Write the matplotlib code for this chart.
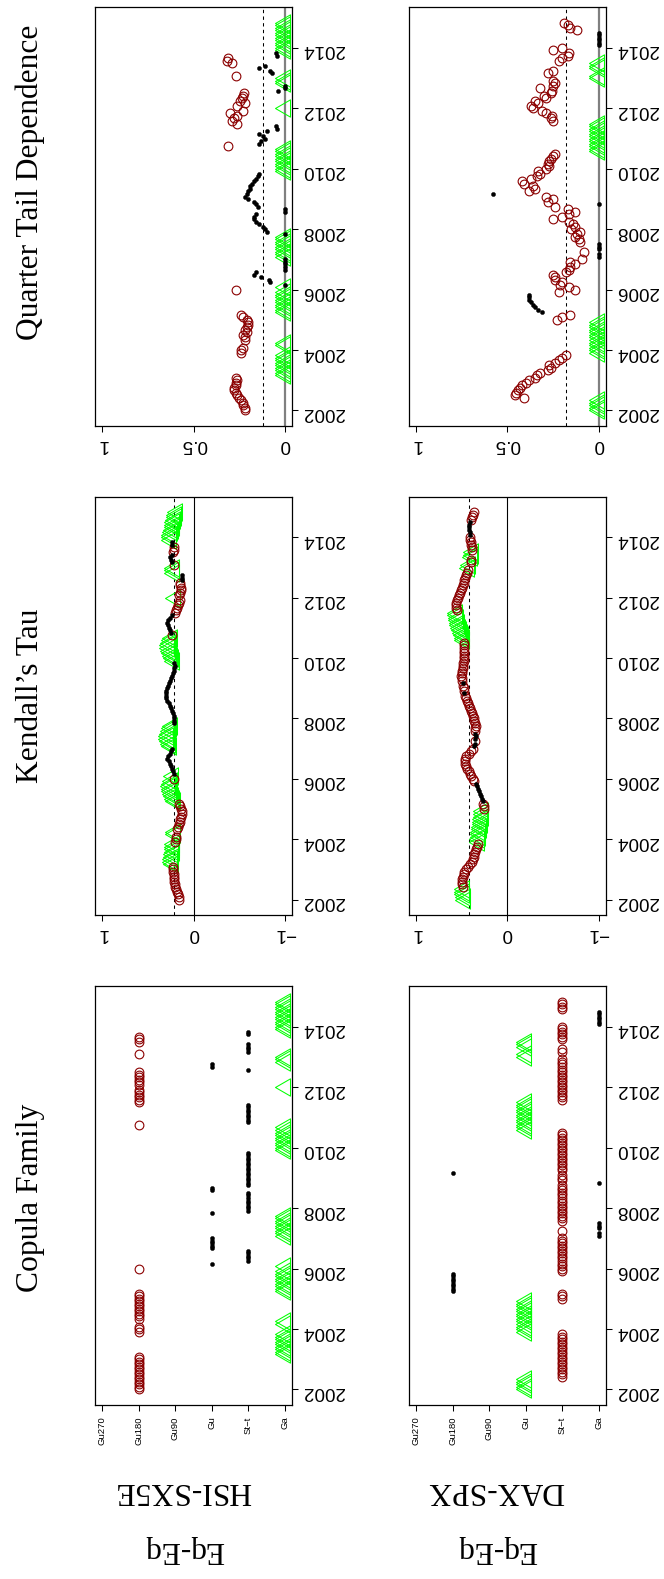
import numpy as np
import matplotlib
matplotlib.use("Agg")
import matplotlib.pyplot as plt
from matplotlib.path import Path
from matplotlib.markers import MarkerStyle

plt.rcParams['font.family'] = ['Liberation Sans', 'DejaVu Sans']

# ---------------- data ----------------
start_year = 2002
n_months = 155
year_ticks = [2002, 2004, 2006, 2008, 2010, 2012, 2014]

family_names = ['Ga', 'St-t', 'Gu', 'Gu90', 'Gu180', 'Gu270']
family_labels = ['Ga', 'St\u2212t', 'Gu', 'Gu90', 'Gu180', 'Gu270']

pairs = ['HSI-SX5E', 'DAX-SPX']
pair_class = 'Eq-Eq'
titles = ['Copula Family', 'Kendall\u2019s Tau', 'Quarter Tail Dependence']

tau_ticks = [1, 0, -1]
tau_ticklabels = ['1', '0', '\u22121']
qtd_ticks = [1, 0.5, 0]
qtd_ticklabels = ['1', '0.5', '0']

# copula family per month, as runs (family, number of months)
hsi_family_runs = [
    ('Gu180', 14), ('Ga', 9), ('Gu180', 3), ('Ga', 2), ('Gu180', 11), ('Ga', 9),
    ('Gu180', 1), ('Ga', 1), ('Gu', 1), ('St-t', 5), ('Gu', 5), ('Ga', 9), ('Gu', 1),
    ('St-t', 8), ('Gu', 2), ('St-t', 14), ('Ga', 10), ('Gu180', 1), ('St-t', 8),
    ('Gu180', 6), ('Ga', 1), ('Gu180', 6), ('St-t', 1), ('Gu', 2), ('Ga', 3),
    ('Gu180', 1), ('St-t', 4), ('Gu180', 3), ('St-t', 2), ('Ga', 12)]
dax_family_runs = [
    ('Gu', 5), ('St-t', 18), ('Gu', 13), ('St-t', 3), ('Gu180', 8), ('St-t', 14),
    ('Ga', 2), ('St-t', 1), ('Ga', 3), ('St-t', 15), ('Ga', 1), ('St-t', 3),
    ('Gu180', 1), ('St-t', 16), ('Gu', 12), ('St-t', 17), ('Gu', 2), ('St-t', 2),
    ('Gu', 3), ('St-t', 6), ('Ga', 6), ('St-t', 4)]

hsi_tau = [
    0.16, 0.165, 0.17, 0.18, 0.19, 0.2, 0.2, 0.21, 0.21, 0.22, 0.22, 0.23, 0.23, 0.23,
    0.23, 0.24, 0.24, 0.23, 0.23, 0.22, 0.22, 0.21, 0.21,
    0.2, 0.19, 0.19, 0.2, 0.2,
    0.18, 0.17, 0.16, 0.15, 0.15, 0.14, 0.13, 0.13, 0.14, 0.15, 0.16,
    0.2, 0.22, 0.23, 0.24, 0.25, 0.25, 0.26, 0.25, 0.24,
    0.22, 0.23, 0.22,
    0.23, 0.24, 0.25, 0.26, 0.27,
    0.29, 0.28, 0.26, 0.25, 0.24,
    0.25, 0.26, 0.27, 0.28, 0.28, 0.27, 0.26, 0.25, 0.24,
    0.22,
    0.21, 0.21, 0.22, 0.23, 0.24, 0.25, 0.26, 0.27,
    0.29, 0.3,
    0.3, 0.3, 0.3, 0.29, 0.28, 0.27, 0.26, 0.25, 0.24, 0.23, 0.22, 0.21, 0.2, 0.21,
    0.22, 0.23, 0.24, 0.25, 0.26, 0.27, 0.27, 0.26, 0.25, 0.24,
    0.24,
    0.25, 0.26, 0.27, 0.28, 0.29, 0.28, 0.26, 0.24,
    0.2, 0.19, 0.18, 0.17, 0.16, 0.15,
    0.2,
    0.16, 0.15, 0.14, 0.14, 0.15, 0.15,
    0.13, 0.13, 0.13,
    0.22, 0.22, 0.21,
    0.22,
    0.24, 0.25, 0.26, 0.24,
    0.23, 0.22, 0.21,
    0.24, 0.24,
    0.25, 0.25, 0.25, 0.24, 0.23, 0.22, 0.22, 0.21, 0.2, 0.19, 0.19, 0.18]

hsi_qtd = [
    0.22, 0.22, 0.23, 0.23, 0.24, 0.25, 0.26, 0.27, 0.28, 0.28, 0.27, 0.27, 0.26, 0.27,
    0, 0, 0, 0, 0, 0, 0, 0, 0,
    0.24, 0.24, 0.23, 0, 0,
    0.22, 0.22, 0.23, 0.21, 0.22, 0.21, 0.2, 0.2, 0.21, 0.23, 0.24,
    0, 0, 0, 0, 0, 0, 0, 0, 0,
    0.27, 0, 0,
    0.08, 0.09, 0.13, 0.17, 0.16,
    0, 0, 0, 0, 0,
    0, 0, 0, 0, 0, 0, 0, 0, 0,
    0,
    0.1, 0.11, 0.12, 0.14, 0.16, 0.17, 0.17, 0.16,
    0, 0,
    0.15, 0.16, 0.17, 0.2, 0.22, 0.21, 0.2, 0.19, 0.19, 0.18, 0.17, 0.16, 0.15, 0.14,
    0, 0, 0, 0, 0, 0, 0, 0, 0, 0,
    0.31,
    0.14, 0.13, 0.11, 0.12, 0.145, 0.1, 0.045, 0.05,
    0.26, 0.29, 0.28, 0.26, 0.3, 0.23,
    0,
    0.26, 0.22, 0.245, 0.236, 0.23, 0.227,
    0.036, 0, 0,
    0, 0, 0,
    0.27,
    0.07, 0.08, 0.145, 0.11,
    0.29, 0.32, 0.31,
    0.045, 0.05,
    0, 0, 0, 0, 0, 0, 0, 0, 0, 0, 0, 0]

dax_tau = [
    0.46, 0.46, 0.47, 0.47, 0.48,
    0.49, 0.5, 0.5, 0.5, 0.49, 0.48, 0.47, 0.45, 0.43, 0.41, 0.39, 0.38, 0.37, 0.36,
    0.35, 0.34, 0.33, 0.32,
    0.31, 0.31, 0.3, 0.3, 0.3, 0.29, 0.29, 0.28, 0.28, 0.28, 0.27, 0.27, 0.27,
    0.26, 0.26, 0.27,
    0.27, 0.28, 0.29, 0.3, 0.31, 0.32, 0.33, 0.34,
    0.36, 0.38, 0.4, 0.41, 0.42, 0.44, 0.45, 0.46, 0.46, 0.46, 0.45, 0.42, 0.4, 0.38,
    0.36, 0.35, 0.35, 0.35, 0.34, 0.35,
    0.35, 0.35, 0.34, 0.35, 0.36, 0.37, 0.38, 0.39, 0.4, 0.41, 0.42, 0.43, 0.44, 0.45,
    0.46,
    0.47, 0.47, 0.48, 0.49, 0.49,
    0.5, 0.5, 0.51, 0.5, 0.5, 0.49, 0.49, 0.49, 0.48, 0.48, 0.48, 0.48, 0.47, 0.47,
    0.47, 0.47,
    0.47, 0.48, 0.49, 0.5, 0.51, 0.52, 0.53, 0.53, 0.54, 0.54, 0.55, 0.55,
    0.55, 0.56, 0.56, 0.56, 0.55, 0.54, 0.53, 0.52, 0.51, 0.5, 0.49, 0.48, 0.47, 0.46,
    0.45, 0.44, 0.43,
    0.42, 0.41, 0.4, 0.4, 0.39, 0.38, 0.38,
    0.39, 0.39, 0.4, 0.4, 0.41, 0.41,
    0.41, 0.41, 0.42, 0.42, 0.42, 0.41,
    0.4, 0.39, 0.38, 0.37]

dax_qtd = [
    0, 0, 0, 0, 0,
    0.41, 0.46, 0.45, 0.44, 0.43, 0.42, 0.4, 0.38, 0.35, 0.34, 0.32, 0.28, 0.26, 0.27,
    0.24, 0.22, 0.2, 0.18,
    0, 0, 0, 0, 0, 0, 0, 0, 0, 0, 0, 0, 0,
    0.23, 0.2, 0.155,
    0.31, 0.33, 0.35, 0.36, 0.37, 0.38, 0.38, 0.38,
    0.22, 0.13, 0.16, 0.21, 0.2, 0.24, 0.24, 0.25, 0.18, 0.16, 0.155, 0.13, 0.155, 0.09,
    0, 0, 0.08, 0, 0, 0,
    0.1, 0.11, 0.13, 0.12, 0.1, 0.15, 0.13, 0.14, 0.16, 0.25, 0.2, 0.16, 0.13, 0.17,
    0.24,
    0,
    0.28, 0.25, 0.29,
    0.58,
    0.38, 0.35, 0.36, 0.41, 0.42, 0.37, 0.34, 0.32, 0.33, 0.29, 0.27, 0.28, 0.27, 0.26,
    0.25, 0.24,
    0, 0, 0, 0, 0, 0, 0, 0, 0, 0, 0, 0,
    0.25, 0.26, 0.255, 0.29, 0.31, 0.36, 0.37, 0.33, 0.35, 0.29, 0.3, 0.26, 0.255,
    0.32, 0.25, 0.24, 0.25,
    0, 0, 0.28, 0.25, 0, 0, 0,
    0.22, 0.2, 0.17, 0.16, 0.25, 0.2,
    0, 0, 0, 0, 0, 0,
    0.12, 0.155, 0.17, 0.19]

# reference (dashed) levels per pair
tau_level = [0.21, 0.42]
qtd_level = [0.12, 0.18]

# which family is shown with circles / triangles in each pair (others: dots)
circle_family = ['Gu180', 'St-t']
triangle_family = ['Ga', 'Gu']

# ---------------- figure ----------------
W, H = 664, 1579
fig = plt.figure(figsize=(W / 100, H / 100), dpi=100)


def rect(x0, y0, x1, y1):
    return [x0 / W, 1 - y1 / H, (x1 - x0) / W, (y1 - y0) / H]


col_x = [(95, 292.3), (408.7, 606)]
row_y = {'qtd': (7.3, 426), 'tau': (496.7, 915), 'fam': (986, 1405)}

tri_path = Path([(-1, 0), (0.5, -0.866), (0.5, 0.866), (-1, 0)], closed=True)
tri_marker = MarkerStyle(tri_path)

months = np.arange(n_months)
t = start_year + months / 12.0
t_rng = t.max() - t.min()
t_lim = (t.min() - 0.04 * t_rng, t.max() + 0.04 * t_rng)

RED = '#8B0000'
GREEN = '#00FF00'


def expand(runs):
    out = []
    for fam, n in runs:
        out += [fam] * n
    return np.array(out)


def draw_points(ax, x, fams, cfam, tfam):
    x = np.asarray(x, dtype=float)
    mc = fams == cfam
    mt = fams == tfam
    md = ~(mc | mt)
    ax.plot(x[mt], t[mt], linestyle='none', marker=tri_marker, ms=14.4,
            mfc='none', mec=GREEN, mew=0.75, zorder=3)
    ax.plot(x[mc], t[mc], linestyle='none', marker='o', ms=6.3,
            mfc='none', mec=RED, mew=0.8, zorder=4)
    ax.plot(x[md], t[md], linestyle='none', marker='o', ms=3.0,
            mfc='black', mec='black', mew=0.3, zorder=5)


def style_axes(ax, xlim):
    ax.set_xlim(*xlim)
    ax.set_ylim(*t_lim)
    ax.yaxis.tick_right()
    ax.set_yticks(year_ticks)
    ax.set_yticklabels([str(y) for y in year_ticks])
    ax.tick_params(axis='y', which='both', left=False, right=True, length=4.3,
                   width=0.75, pad=3, labelsize=13.5, labelrotation=180)
    ax.tick_params(axis='x', which='both', top=False, bottom=True, length=4.3,
                   width=0.75, pad=3, labelsize=13.5, labelrotation=180)
    for sp in ax.spines.values():
        sp.set_linewidth(0.9)
        sp.set_color('black')


fam_data = [expand(hsi_family_runs), expand(dax_family_runs)]
tau_data = [hsi_tau, dax_tau]
qtd_data = [hsi_qtd, dax_qtd]

for i in range(2):
    x0, x1 = col_x[i]
    fams = fam_data[i]
    # copula family panel
    ax = fig.add_axes(rect(x0, row_y['fam'][0], x1, row_y['fam'][1]))
    fam_pos = np.array([family_names.index(f) for f in fams])
    draw_points(ax, fam_pos, fams, circle_family[i], triangle_family[i])
    style_axes(ax, (len(family_names) - 1 + 0.2, -0.2))
    ax.set_xticks(range(len(family_names)))
    ax.set_xticklabels(family_labels)
    ax.tick_params(axis='x', labelsize=6.8, labelrotation=90, pad=4)

    # Kendall's tau panel
    ax = fig.add_axes(rect(x0, row_y['tau'][0], x1, row_y['tau'][1]))
    ax.axvline(0, color='black', lw=0.8, zorder=1)
    ax.axvline(tau_level[i], color='black', lw=0.75, linestyle=(0, (3.2, 3.2)), zorder=1)
    draw_points(ax, tau_data[i], fams, circle_family[i], triangle_family[i])
    style_axes(ax, (1.08, -1.08))
    ax.set_xticks(tau_ticks)
    ax.set_xticklabels(tau_ticklabels)

    # quarter tail dependence panel
    ax = fig.add_axes(rect(x0, row_y['qtd'][0], x1, row_y['qtd'][1]))
    ax.axvline(0, color='#808080', lw=1.6, zorder=1)
    ax.axvline(qtd_level[i], color='black', lw=0.75, linestyle=(0, (3.2, 3.2)), zorder=1)
    draw_points(ax, qtd_data[i], fams, circle_family[i], triangle_family[i])
    style_axes(ax, (1.04, -0.04))
    ax.set_xticks(qtd_ticks)
    ax.set_xticklabels(qtd_ticklabels)

# column titles (rotated)
serif = ['Liberation Serif', 'DejaVu Serif']
title_y = [1197.5, 695.5, 182]
for txt, yc in zip(titles, title_y):
    fig.text(38.3 / W, 1 - yc / H, txt, rotation=90, rotation_mode='anchor',
             ha='center', va='baseline', fontsize=22.7, family=serif)

# row labels (upside down)
label_x = [182.5, 496]
for i in range(2):
    fig.text(label_x[i] / W, 1 - 1483 / H, pairs[i], rotation=180,
             rotation_mode='anchor', ha='center', va='baseline',
             fontsize=22.7, family=serif)
    fig.text((label_x[i] + 1.5) / W, 1 - 1542 / H, pair_class, rotation=180,
             rotation_mode='anchor', ha='center', va='baseline',
             fontsize=22.7, family=serif)

fig.savefig('out.png', dpi=100)
